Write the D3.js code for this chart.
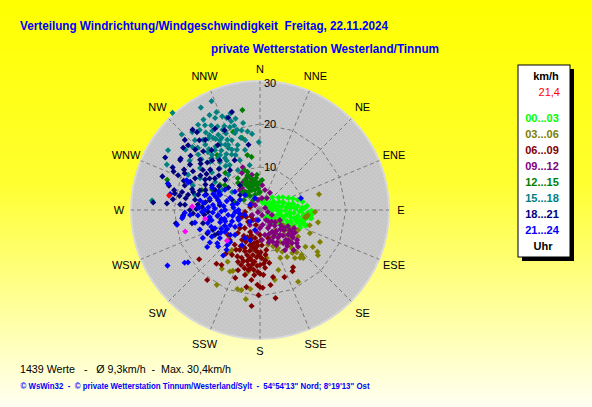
<!DOCTYPE html>
<html>
<head>
<meta charset="utf-8">
<script src="https://cdn.jsdelivr.net/npm/d3@7"></script>
<style>
body { margin: 0; }
svg { display: block; }
text { font-family: "Liberation Sans", Arial, sans-serif; }
</style>
</head>
<body>
<script>
// Size and polar frame

const width = 592, height = 407;
const cx = 260, cy = 210, R = 129;

// Data: [direction in degrees, speed in km/h], grouped by time of day

const directions = ["N","NNE","NE","ENE","E","ESE","SE","SSE","S","SSW","SW","WSW","W","WNW","NW","NNW"];
const speedTicks = [10, 20, 30];
const classLabels = ["00...03","03...06","06...09","09...12","12...15","15...18","18...21","21...24"];
const classColors = ["#00ff00","#808000","#800000","#800080","#008000","#008080","#000080","#0000ff"];

const h00 = [[18,2.2],[48,2.0],[78,2.3],[108,1.9],[138,2.1],[28,3.1],[52,2.8],[71,3.2],[92,2.9],[112,3.3],[131,2.8],
 [44,4.1],[61,3.8],[76,4.2],[89,3.9],[104,4.3],[119,3.8],[134,4.0],[56,5.2],[67,4.8],[81,5.1],[93,4.7],[105,5.3],[116,4.9],[127,5.1],
 [61,6.1],[73,5.8],[83,6.3],[91,5.9],[101,6.2],[113,5.7],[123,6.0],[67,7.2],[78,6.8],[86,7.1],[96,6.9],[103,7.3],[112,6.8],[121,7.0],
 [71,8.1],[79,7.8],[88,8.2],[95,7.9],[104,8.3],[111,7.7],[119,8.0],[75,9.1],[84,8.8],[92,9.2],[99,8.9],[107,9.3],[115,8.7],
 [79,10.1],[87,9.8],[96,10.2],[103,9.9],[111,10.0],[85,11.0],[93,11.2],[101,10.8],[109,11.1],[91,12.0],[99,12.1],
 [17,2.4],[63,2.6],[80,4.2],[84,6.3],[87,8.2],[90,9.8],[94,11.2],[99,11.8],[108,11.5],[114,10.2],[122,9.6],[112,7.5],[109,5.7],
 [96,4.7],[96,7.0],[100,9.0],[106,10.4],[121,6.8],[54,2.0],[58,3.5],[73,5.6],[80,7.8],[87,10.5],[95,12.1],[108,9.0],[123,7.7],
 [82,3.5],[6,2.3],[23,1.8]];

const h03 = [[75,14.2],[92,12.8],[102,13.8],[118,15.8],[128,17.1],[115,12.8],[129,13.6],[140,14.5],[152,18.9],[96,11.2],[98,11.0],
 [125,15.0],[137,14.2],[143,12.5],[210,20.1],[189,21.0],[196,19.1],[213,16.3],[204,15.5],[191,14.7],[150,12.6],[157,12.1],[163,14.6],
 [168,16.6],[99,10.6],[107,12.1],[125,10.8],[119,8.7],[139,13.0],[144,13.8],[138,15.0],[126,16.5],[135,9.9],[157,10.1],[172,11.3],
 [212,14.2],[206,15.9],[215,12.0],[215,11.4],[193,19.1],[187,18.5],[143,5.8],[135,8.2],[148,8.8],[157,7.1],[139,10.7],[123,6.4],
 [126,8.0],[155,9.8],[167,8.3],[127,4.7],[131,7.0],[150,6.5],[140,11.5],[160,9.0],[132,9.3],[118,10.0],[145,7.5],[152,11.0]];

const h06 = [[185,22.4],[170,20.8],[152,16.1],[160,16.6],[231,18.2],[217,20.4],[219,16.1],[218,12.9],[200,16.8],[178,18.1],[181,19.8],
 [215,15.6],[191,14.2],[187,16.4],[182,17.4],[172,17.6],[150,15.4],[169,15.9],[200,14.9],[190,18.2],[180,17.9],[232,9.4],[224,7.4],
 [249,4.5],[287,2.4],[215,2.8],[220,5.5],[204,5.6],[190,6.6],[177,8.2],[183,9.8],[192,11.4],[202,9.5],[211,8.1],[207,10.4],[192,13.1],
 [186,12.1],[178,11.2],[175,13.5],[182,14.4],[193,8.3],[195,3.6],[225,3.9],[212,7.1],[216,10.0],[225,9.9],[212,12.3],[203,13.1],
 [193,15.5],[171,9.4],[164,6.8],[180,5.8],[189,10.6],[180,12.8],[196,10.9],[201,11.9],[211,10.8],[187,8.9],[177,15.1],[228,6.3],
 [204,8.1],[185,7.5],[197,7.0],[188,12.8],[184,11.0],[198,12.5],[206,12.0],[174,11.8],[179,9.8],[194,9.8],[200,10.2],[186,14.0],
 [170,12.5],[262,3.5],[243,3.6],[235,2.5],[255,4.0],[183,13.0],[189,13.8],[195,14.0],[199,13.5],[185,15.2],[180,14.8],[176,12.5],
 [181,10.5],[186,9.5],[191,9.0],[196,8.5],[205,7.0],[208,9.5],[199,6.2],[190,7.8],[184,8.3],[178,7.0],[173,10.5],[194,12.2],[190,11.8]];

const h09 = [[338,10.7],[339,8.2],[321,6.6],[320,5.5],[347,7.2],[354,6.3],[30,4.6],[30,3.2],[349,2.4],[311,2.5],[334,9.6],[341,5.7],
 [315,6.6],[347,8.4],[340,6.7],[329,7.6],[5,5.8],[14,4.8],[225,0.7],[158,1.3],[149,2.7],[146,4.2],[141,7.4],[139,9.2],[136,10.7],
 [129,11.1],[123,9.7],[120,7.5],[117,5.2],[113,3.0],[68,1.3],[202,2.5],[180,4.2],[169,5.9],[162,7.4],[155,9.0],[148,11.0],[129,9.6],
 [130,7.3],[129,4.5],[156,4.6],[238,2.2],[315,1.6],[9,2.8],[147,7.7],[124,8.4],[145,9.4],[151,5.8],[176,7.0],[188,5.2],[214,4.2],
 [134,12.3],[104,1.9],[143,10.5],[140,12.2],[133,6.5],[138,8.0],[152,8.5],[160,6.0],[170,3.5],[126,6.0],[135,3.8],[144,3.2],
 [118,9.0],[130,10.0],[142,6.2],[137,9.7],[131,8.7],[127,7.0],[137,5.0],[147,6.5],[153,7.0],[158,8.0],[165,7.8],[141,10.0],
 [132,11.5],[125,9.2]];

const h12 = [[333,7.8],[343,7.8],[350,6.6],[355,5.1],[338,5.0],[332,6.3],[317,5.8],[342,3.7],[0,4.2],[325,4.0],[321,8.1],[4,7.0],
 [355,8.2],[342,9.3],[302,4.4],[325,2.8],[319,4.6],[350,23.6],[341,19.2],[346,17.3],[347,13.1],[317,11.8],[288,22.7],[289,14.3],
 [339,9.9],[325,9.0],[322,16.2],[302,11.0],[351,12.5],[286,6.0],[305,10.0],[293,12.1],[322,7.3],[353,7.5],[358,6.3],[339,6.5],[322,5.3],
 [345,6.0],[348,7.0],[336,7.2],[330,7.0],[352,5.8],[335,5.8],[340,8.5],[328,5.0],[346,4.8],[357,4.0]];

const h15 = [[336,27.7],[330,27.5],[336,24.9],[340,22.8],[343,23.5],[349,20.6],[354,17.8],[359,15.8],[318,30.4],[314,25.3],[303,25.5],
 [296,24.1],[342,21.7],[275,25.2],[283,15.5],[290,16.6],[303,7.7],[344,19.4],[340,20.5],[342,18.8],[345,17.4],[327,23.5],[323,23.3],
 [326,21.0],[330,18.7],[333,16.2],[336,14.0],[320,19.8],[323,17.4],[326,14.6],[312,19.3],[314,16.1],[316,13.5],[326,12.6],[338,12.5],
 [346,14.4],[330,22.7],[335,20.6],[317,22.2],[328,24.8],[334,23.8],[332,17.2],[338,17.5],[318,18.1],[321,15.5],[305,17.0],[308,14.2],
 [318,11.0],[331,10.6],[305,20.0],[309,22.3],[347,10.7],[348,16.6],[298,15.8],[296,18.6],[302,12.3],[298,10.0],[328,19.5],[324,20.5],
 [331,20.0],[335,18.0],[327,16.5],[319,17.0],[315,20.5],[339,15.0],[333,14.5],[322,13.0],[325,22.0],[329,21.5],[333,21.8],[337,21.2],
 [321,21.0],[327,20.0],[332,19.0],[336,19.5],[320,18.5],[325,18.0],[329,17.8],[334,16.8],[317,16.5],[324,15.8],[329,15.2],[335,15.5],
 [320,14.5],[326,13.8],[341,16.0],[343,20.5],[345,22.0],[338,23.5],[332,25.0],[324,24.5],[313,21.5],[311,18.0],[319,24.0],[347,19.0],
 [351,18.5]];

const h18 = [[344,23.7],[331,21.6],[321,23.3],[309,23.0],[303,22.0],[299,25.2],[289,24.0],[285,21.9],[274,24.9],[281,20.2],[336,20.3],
 [341,22.7],[296,22.6],[274,21.7],[277,20.4],[274,18.6],[261,19.8],[266,17.9],[267,15.6],[279,15.3],[273,13.5],[257,13.6],[259,11.9],
 [247,11.9],[241,11.1],[259,16.1],[246,13.4],[241,12.0],[285,16.1],[283,18.6],[313,23.9],[313,20.6],[303,19.4],[310,18.2],[309,14.9],
 [299,14.6],[296,16.8],[288,18.4],[294,11.4],[311,10.7],[323,11.6],[321,14.9],[321,17.9],[322,20.7],[293,20.7],[282,17.1],[288,14.7],
 [281,11.9],[277,9.4],[290,6.9],[321,7.4],[333,13.0],[350,15.4],[320,24.4],[327,18.0],[305,9.0],[302,21.9],[275,14.5],[268,12.1],
 [274,17.5],[307,5.8],[305,16.2],[305,12.8],[270,16.3],[300,18.0],[292,17.5],[316,16.0],[298,20.0],[286,13.0],[308,20.5],[295,14.0],
 [280,19.0],[300,16.0],[304,15.0],[308,17.5],[312,16.5],[316,19.0],[319,21.5],[312,22.5],[296,19.5],[291,19.0],[287,16.5],[284,14.8],
 [290,13.5],[297,12.5],[302,13.8],[310,12.5],[315,13.5],[300,11.0],[292,10.2],[286,10.5],[283,20.5],[294,22.0],[279,17.5],[278,12.8],
 [271,14.8],[265,13.0]];

const h21 = [[239,25.1],[235,21.4],[234,20.7],[260,19.6],[264,18.2],[244,14.8],[237,13.9],[219,13.6],[220,12.1],[229,12.9],[286,22.3],
 [280,21.2],[265,18.0],[266,16.3],[259,15.4],[235,15.0],[241,12.8],[232,12.6],[291,17.9],[268,17.5],[223,11.2],[279,14.1],[283,12.0],
 [291,9.9],[292,7.5],[297,5.2],[297,2.6],[270,12.8],[272,10.5],[270,8.1],[265,5.8],[252,3.7],[258,11.5],[253,9.7],[243,7.8],[233,5.8],
 [238,9.6],[225,8.2],[208,7.4],[235,11.4],[223,10.2],[248,11.3],[220,3.6],[337,3.0],[315,4.9],[306,7.2],[300,9.4],[295,12.3],[285,13.3],
 [265,14.5],[250,5.4],[261,7.5],[263,9.8],[252,14.7],[247,13.1],[194,4.8],[198,7.4],[207,9.2],[191,2.4],[292,18.4],[74,9.9],
 [276,11.0],[268,9.0],[256,8.5],[246,9.0],[258,6.5],[280,9.5],[287,10.8],[262,11.8],[240,10.5],[230,9.0],[285,8.0],[289,11.5],
 [294,10.5],[283,10.0],[276,8.5],[273,12.0],[267,11.0],[262,10.0],[257,9.2],[252,8.5],[248,7.0],[244,10.0],[240,8.8],[236,7.0],
 [256,12.5],[251,12.0],[277,13.2],[272,14.2],[268,13.5],[281,6.5],[275,6.2],[270,5.0],[286,5.5],[260,4.8],[245,5.5]];

const lastHour = [[273,15.8],[261,12.9],[254,18.1],[227,10.5]];
const current = [[279,21.4]];
const currentLabel = "21,4";

const series = [h00, h03, h06, h09, h12, h15, h18, h21];

// Scales

const r = d3.scaleLinear().domain([0, 30]).range([0, R]);
const angle = d3.scaleLinear().domain([0, 360]).range([0, 2 * Math.PI]);
const dirAngle = d3.scalePoint().domain(directions).range([0, 360 - 22.5]);

// SVG

const svg = d3.select("body").append("svg")
 .attr("width", width).attr("height", height);

const defs = svg.append("defs");
const grad = defs.append("linearGradient").attr("id", "bg")
 .attr("x1", 0).attr("y1", 0).attr("x2", 0).attr("y2", 1);
grad.append("stop").attr("offset", "0%").attr("stop-color", "#ffff00");
grad.append("stop").attr("offset", "45%").attr("stop-color", "#ffff30");
grad.append("stop").attr("offset", "100%").attr("stop-color", "#fffff2");

const pat = defs.append("pattern").attr("id", "dots")
 .attr("width", 4).attr("height", 4).attr("patternUnits", "userSpaceOnUse");
pat.append("rect").attr("width", 4).attr("height", 4).attr("fill", "#c6c6c6");
pat.append("rect").attr("x", 0).attr("y", 0).attr("width", 1).attr("height", 1).attr("fill", "#d2d2d2");
pat.append("rect").attr("x", 2).attr("y", 2).attr("width", 1).attr("height", 1).attr("fill", "#d2d2d2");

svg.append("rect").attr("width", width).attr("height", height).attr("fill", "url(#bg)");

// Titles

svg.append("text").attr("x", 20).attr("y", 29.5)
 .attr("textLength", 368).attr("lengthAdjust", "spacingAndGlyphs")
 .style("white-space", "pre")
 .attr("font-size", 12.5).attr("font-weight", "bold").attr("fill", "#0000ff")
 .text("Verteilung Windrichtung/Windgeschwindigkeit  Freitag, 22.11.2024");

svg.append("text").attr("x", 211).attr("y", 53)
 .attr("textLength", 228).attr("lengthAdjust", "spacingAndGlyphs")
 .attr("font-size", 12.5).attr("font-weight", "bold").attr("fill", "#0000ff")
 .text("private Wetterstation Westerland/Tinnum");

// Polar plot

const g = svg.append("g").attr("transform", `translate(${cx},${cy})`);

g.append("circle").attr("r", r(30))
 .attr("fill", "url(#dots)").attr("stroke", "#d8d8d8").attr("stroke-width", 2);

const grid = g.append("g").attr("fill", "none").attr("stroke", "#7a7a7a")
 .attr("stroke-width", 1).attr("stroke-dasharray", "4,3");

directions.forEach(d => {
  const p = d3.pointRadial(angle(dirAngle(d)), r(30));
  grid.append("line").attr("x1", 0).attr("y1", 0).attr("x2", p[0]).attr("y2", p[1]);
});

speedTicks.filter(t => t < 30).forEach(t => {
  grid.append("path")
   .datum(directions)
   .attr("d", d3.lineRadial()
     .angle(d => angle(dirAngle(d)))
     .radius(r(t))
     .curve(d3.curveLinearClosed));
});

// Direction labels

g.selectAll("text.dir").data(directions).join("text")
 .attr("class", "dir")
 .attr("x", (d, i) => d3.pointRadial(angle(dirAngle(d)), i % 4 === 0 ? 141 : 145)[0])
 .attr("y", (d, i) => d3.pointRadial(angle(dirAngle(d)), i % 4 === 0 ? 141 : 145)[1])
 .attr("text-anchor", "middle").attr("dominant-baseline", "central")
 .attr("font-size", 11).attr("fill", "#000")
 .text(d => d);

// Speed ring labels

g.selectAll("text.ring").data(speedTicks).join("text")
 .attr("class", "ring")
 .attr("x", 4).attr("y", d => -r(d) + (d === 30 ? 2 : 0))
 .attr("dominant-baseline", "central")
 .attr("font-size", 11).attr("fill", "#000")
 .text(d => d);

// Points

const diamond = d3.symbol().type(d3.symbolDiamond2).size(24);
const pos = d => d3.pointRadial(angle(d[0]), r(d[1]));

function plotPoints(data, color) {
  g.append("g").selectAll("path").data(data).join("path")
   .attr("transform", d => `translate(${pos(d)[0]},${pos(d)[1]})`)
   .attr("d", diamond)
   .attr("fill", color);
}

series.forEach((s, i) => plotPoints(s, classColors[i]));
plotPoints(lastHour, "#ff00ff");
plotPoints(current, "#ff0000");

// Legend

const lg = svg.append("g").attr("transform", "translate(518,65)");
lg.append("rect").attr("x", 4).attr("y", 4).attr("width", 52).attr("height", 192).attr("fill", "#000");
lg.append("rect").attr("width", 52).attr("height", 192).attr("fill", "#fff").attr("stroke", "#000");

lg.append("text").attr("x", 28).attr("y", 10.5).attr("text-anchor", "middle").attr("dominant-baseline", "central")
 .attr("font-size", 11).attr("font-weight", "bold").text("km/h");
lg.append("text").attr("x", 42).attr("y", 27).attr("text-anchor", "end").attr("dominant-baseline", "central")
 .attr("font-size", 11).attr("fill", "#ff0000").text(currentLabel);

lg.selectAll("text.cls").data(classLabels).join("text")
 .attr("class", "cls")
 .attr("x", 24).attr("y", (d, i) => 53 + i * 16)
 .attr("text-anchor", "middle").attr("dominant-baseline", "central")
 .attr("font-size", 11).attr("font-weight", "bold")
 .attr("fill", (d, i) => classColors[i])
 .text(d => d);

lg.append("text").attr("x", 25).attr("y", 180.5).attr("text-anchor", "middle").attr("dominant-baseline", "central")
 .attr("font-size", 11).attr("font-weight", "bold").text("Uhr");

// Footer

svg.append("text").attr("x", 20).attr("y", 372.5)
 .attr("textLength", 211).attr("lengthAdjust", "spacingAndGlyphs")
 .style("white-space", "pre")
 .attr("font-size", 11).attr("fill", "#000")
 .text("1439 Werte   -   Ø 9,3km/h  -  Max. 30,4km/h");

svg.append("text").attr("x", 20.5).attr("y", 388.5)
 .attr("textLength", 349).attr("lengthAdjust", "spacingAndGlyphs")
 .style("white-space", "pre")
 .attr("font-size", 8.5).attr("font-weight", "bold").attr("fill", "#0000ff")
 .text("© WsWin32  -  © private Wetterstation Tinnum/Westerland/Sylt  -  54°54'13\" Nord; 8°19'13\" Ost");
</script>
</body>
</html>
